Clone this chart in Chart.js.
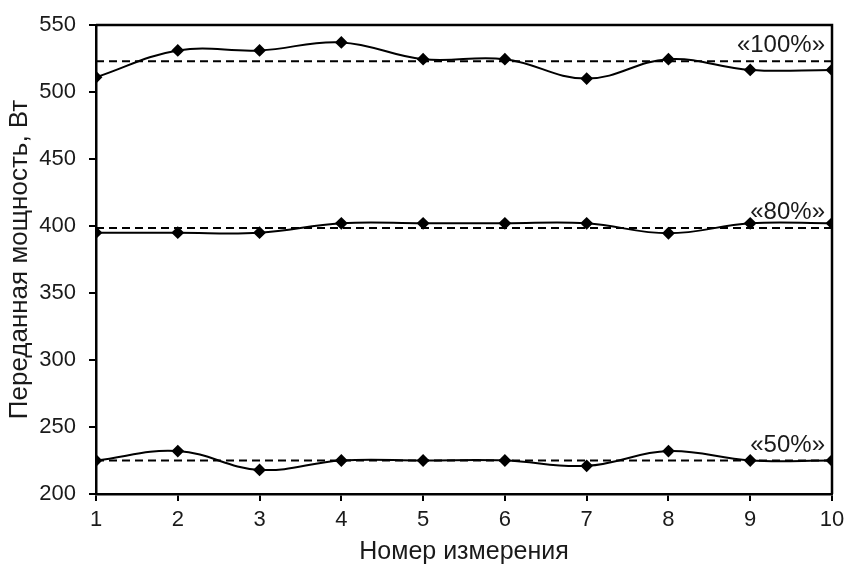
<!DOCTYPE html>
<html>
<head>
<meta charset="utf-8">
<script src="https://cdn.jsdelivr.net/npm/chart.js@4.4.0/dist/chart.umd.min.js"></script>
<style>
  html, body { margin: 0; padding: 0; background: #fff; }
  #wrap { width: 846px; height: 568px; }
</style>
</head>
<body>
<div id="wrap"><canvas id="powerChart"></canvas></div>
<script>
// Номер измерения
const measureNo = [1, 2, 3, 4, 5, 6, 7, 8, 9, 10];

// Переданная мощность, Вт
const power100 = [511, 531, 531, 537, 524.5, 524.5, 510, 524.5, 516.5, 516.5];
const power80 = [395, 395, 395, 402, 402, 402, 402, 394.6, 402, 402];
const power50 = [225, 232, 218, 225, 225, 225, 221, 232, 225, 225];

// средние уровни (пунктир)
const levelValues = [523, 398.5, 225];
const levelLabels = ['«100%»', '«80%»', '«50%»'];

const yTicks = [200, 250, 300, 350, 400, 450, 500, 550];

const fontFamily = 'Arial, "Liberation Sans", sans-serif';
const textColor = '#1a1a1a';

function toPoints(values) {
    return values.map((v, i) => ({ x: measureNo[i], y: v }));
}

function levelPoints(v) {
    return [{ x: measureNo[0], y: v }, { x: measureNo[measureNo.length - 1], y: v }];
}

const seriesStyle = {
    borderColor: '#000',
    backgroundColor: '#000',
    borderWidth: 2,
    tension: 0.4,
    pointStyle: 'rectRot',
    pointRadius: 5,
    pointHoverRadius: 5,
    fill: false
};

const levelStyle = {
    borderColor: '#000',
    borderWidth: 2,
    borderDash: [8, 5],
    pointRadius: 0,
    tension: 0,
    fill: false
};

// рамка сверху и справа + подписи уровней
const framePlugin = {
    id: 'framePlugin',
    afterDraw(chart) {
        const { ctx, chartArea, scales } = chart;
        ctx.save();
        ctx.strokeStyle = '#000';
        ctx.lineWidth = 2.5;
        ctx.beginPath();
        ctx.moveTo(chartArea.left, chartArea.top);
        ctx.lineTo(chartArea.right, chartArea.top);
        ctx.lineTo(chartArea.right, chartArea.bottom);
        ctx.stroke();

        ctx.fillStyle = textColor;
        ctx.font = '24px ' + fontFamily;
        ctx.textAlign = 'right';
        ctx.textBaseline = 'alphabetic';
        levelValues.forEach((v, i) => {
            const y = scales.y.getPixelForValue(v) - 9;
            ctx.fillText(levelLabels[i], chartArea.right - 7, y);
        });
        ctx.restore();
    }
};

new Chart(document.getElementById('powerChart'), {
    type: 'line',
    data: {
        datasets: [
            Object.assign({ label: '100%', data: toPoints(power100) }, seriesStyle),
            Object.assign({ label: '80%', data: toPoints(power80) }, seriesStyle),
            Object.assign({ label: '50%', data: toPoints(power50) }, seriesStyle),
            Object.assign({ label: 'ур. 100%', data: levelPoints(levelValues[0]) }, levelStyle),
            Object.assign({ label: 'ур. 80%', data: levelPoints(levelValues[1]) }, levelStyle),
            Object.assign({ label: 'ур. 50%', data: levelPoints(levelValues[2]) }, levelStyle)
        ]
    },
    options: {
        responsive: true,
        maintainAspectRatio: false,
        animation: false,
        layout: { padding: { left: 0, right: 0, top: 25, bottom: 0 } },
        plugins: {
            legend: { display: false },
            tooltip: { enabled: false }
        },
        scales: {
            x: {
                type: 'linear',
                min: 1,
                max: 10,
                afterBuildTicks: (axis) => { axis.ticks = measureNo.map(v => ({ value: v })); },
                afterFit: (axis) => {
                    axis.height = 74;
                    axis.paddingLeft = 0;
                    axis.paddingRight = 14;
                },
                ticks: {
                    color: textColor,
                    font: { size: 22, family: fontFamily },
                    padding: 6,
                    maxRotation: 0
                },
                grid: {
                    display: true,
                    drawOnChartArea: false,
                    drawTicks: true,
                    tickLength: 7,
                    color: '#000',
                    lineWidth: 2
                },
                border: { display: true, color: '#000', width: 2.5 },
                title: {
                    display: true,
                    text: 'Номер измерения',
                    color: textColor,
                    font: { size: 25, family: fontFamily },
                    padding: { top: 2, bottom: 1 }
                }
            },
            y: {
                min: 200,
                max: 550,
                afterBuildTicks: (axis) => { axis.ticks = yTicks.map(v => ({ value: v })); },
                afterFit: (axis) => {
                    axis.width = 96;
                    axis.paddingTop = 0;
                    axis.paddingBottom = 0;
                },
                ticks: {
                    color: textColor,
                    font: { size: 22, family: fontFamily },
                    padding: 13
                },
                grid: {
                    display: true,
                    drawOnChartArea: false,
                    drawTicks: true,
                    tickLength: 7,
                    color: '#000',
                    lineWidth: 2
                },
                border: { display: true, color: '#000', width: 2.5 },
                title: {
                    display: true,
                    text: 'Переданная мощность, Вт',
                    color: textColor,
                    font: { size: 26, family: fontFamily },
                    padding: { top: 4, bottom: 4 }
                }
            }
        }
    },
    plugins: [framePlugin]
});
</script>
</body>
</html>
